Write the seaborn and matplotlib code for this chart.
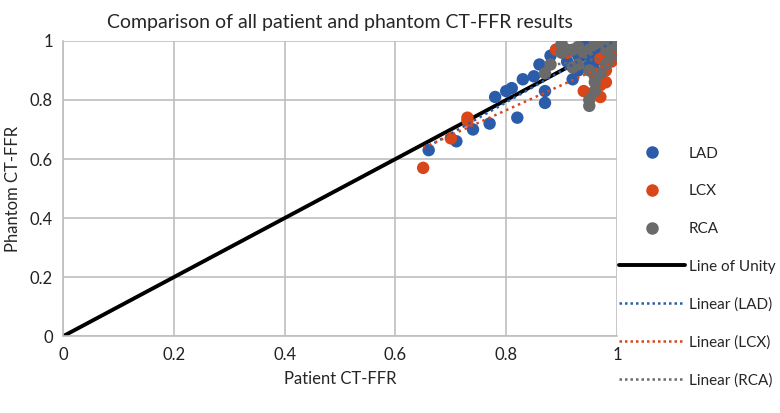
import seaborn as sns
import matplotlib.pyplot as plt
import pandas as pd
import numpy as np
from matplotlib.lines import Line2D

sns.set_style("whitegrid")
plt.rcParams['font.family'] = ['Lato', 'DejaVu Sans']

# Patient vs phantom CT-FFR values
lad_patient = [0.66, 0.71, 0.74, 0.77, 0.78, 0.80, 0.81, 0.82, 0.83, 0.85, 0.86, 0.87, 0.87,
               0.88, 0.89, 0.91, 0.92, 0.93, 0.93, 0.94, 0.94, 0.95, 0.95, 0.96, 0.96, 0.97,
               0.97, 0.98, 0.99, 0.99, 1.00]
lad_phantom = [0.63, 0.66, 0.70, 0.72, 0.81, 0.83, 0.84, 0.74, 0.87, 0.88, 0.92, 0.79, 0.83,
               0.95, 0.97, 0.93, 0.87, 0.90, 0.95, 0.99, 0.97, 0.95, 0.92, 0.93, 0.90, 0.98,
               0.96, 1.00, 0.97, 1.00, 0.99]

lcx_patient = [0.65, 0.70, 0.73, 0.73, 0.89, 0.91, 0.94, 0.95, 0.96, 0.96, 0.97, 0.97, 0.97,
               0.98, 0.98, 0.98, 0.99, 0.99, 1.00]
lcx_phantom = [0.57, 0.67, 0.74, 0.73, 0.97, 0.96, 0.83, 0.82, 0.89, 0.88, 0.81, 0.85, 0.94,
               0.86, 0.90, 0.96, 0.93, 1.00, 0.97]

rca_patient = [0.87, 0.88, 0.90, 0.90, 0.91, 0.92, 0.92, 0.93, 0.93, 0.94, 0.95, 0.95, 0.95,
               0.95, 0.96, 0.96, 0.96, 0.97, 0.97, 0.98, 0.98, 0.98, 0.99, 0.99, 1.00, 1.00]
rca_phantom = [0.89, 0.92, 0.99, 0.96, 0.97, 0.97, 0.91, 0.98, 0.92, 0.96, 0.97, 0.78, 0.80,
               0.90, 0.99, 0.83, 0.86, 1.00, 0.89, 0.99, 0.92, 0.97, 1.00, 0.94, 1.00, 0.98]

series = ["LAD", "LCX", "RCA"]
colors = {"LAD": "#2a5caa", "LCX": "#d9461a", "RCA": "#6a6a6a"}

df = pd.concat([
    pd.DataFrame({"Patient": lad_patient, "Phantom": lad_phantom, "Artery": "LAD"}),
    pd.DataFrame({"Patient": lcx_patient, "Phantom": lcx_phantom, "Artery": "LCX"}),
    pd.DataFrame({"Patient": rca_patient, "Phantom": rca_phantom, "Artery": "RCA"}),
])

fig = plt.figure(figsize=(7.8, 4.13), dpi=100)
ax = fig.add_axes([0.081, 0.186, 0.71, 0.715])

# line of unity
ax.plot([0, 1], [0, 1], color="black", lw=2.8, zorder=2)

sns.scatterplot(data=df, x="Patient", y="Phantom", hue="Artery", palette=colors,
                s=80, edgecolor="none", legend=False, ax=ax, zorder=3)

for name in series:
    sub = df[df["Artery"] == name]
    sns.regplot(data=sub, x="Patient", y="Phantom", scatter=False, ci=None, truncate=True,
                ax=ax, line_kws=dict(color=colors[name], lw=1.8, linestyle=(0, (1, 1.6)), zorder=4))

ax.set_xlim(0, 1)
ax.set_ylim(0, 1)
ticks = [0, 0.2, 0.4, 0.6, 0.8, 1]
labels = ["0", "0.2", "0.4", "0.6", "0.8", "1"]
ax.set_xticks(ticks)
ax.set_xticklabels(labels)
ax.set_yticks(ticks)
ax.set_yticklabels(labels)
ax.tick_params(labelsize=12, colors="#222222", pad=4)
ax.grid(color="#bfbfbf", lw=1.2)
for side, sp in ax.spines.items():
    sp.set_visible(side in ("left", "bottom"))
    sp.set_color("#bfbfbf")
    sp.set_linewidth(1.2)

ax.set_xlabel("Patient CT-FFR", fontsize=12, labelpad=6)
ax.set_ylabel("Phantom CT-FFR", fontsize=12, labelpad=6)
ax.set_title("Comparison of all patient and phantom CT-FFR results", fontsize=14, pad=9)

handles = [Line2D([], [], ls="none", marker="o", ms=8, color=colors[n]) for n in series]
handles.append(Line2D([], [], color="black", lw=2.8))
handles += [Line2D([], [], color=colors[n], lw=1.8, ls=(0, (1, 1.2))) for n in series]
leg_labels = series + ["Line of Unity", "Linear (LAD)", "Linear (LCX)", "Linear (RCA)"]
fig.legend(handles, leg_labels, loc="center left", bbox_to_anchor=(0.79, 0.353),
           frameon=False, fontsize=11, labelspacing=1.55, handlelength=4.3,
           handletextpad=0.25, borderaxespad=0, borderpad=0.2)

fig.savefig("out.png", dpi=100)
